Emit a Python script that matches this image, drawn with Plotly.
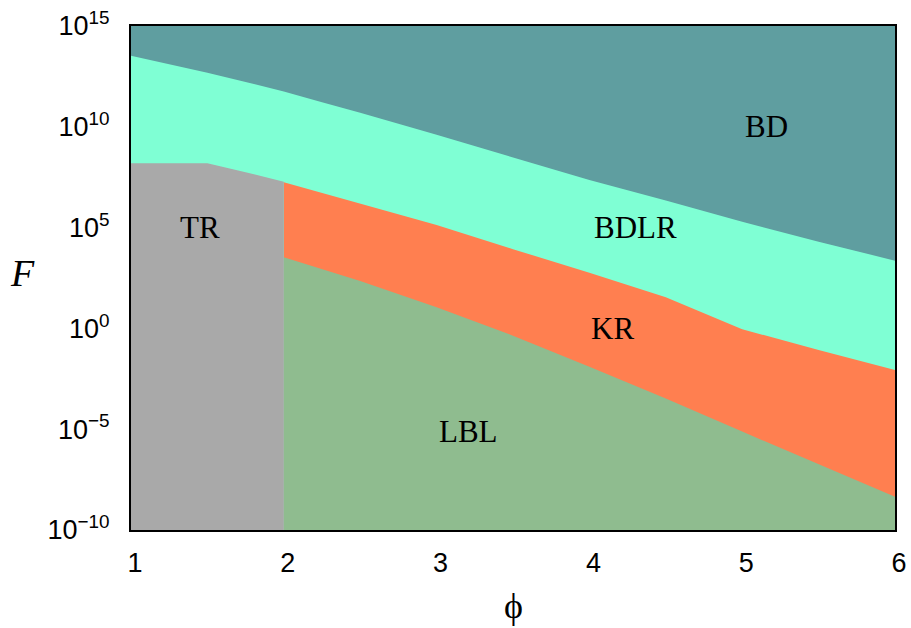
import plotly.graph_objects as go

# Regime boundaries in the (phi, F) plane; F values given as log10(F)
phi_bd = [1.0, 1.25, 1.5, 1.75, 2.0, 2.25, 2.5, 3.0, 3.5, 4.0, 4.5, 5.0, 5.5, 6.0]
logF_bd = [13.53, 13.11, 12.68, 12.22, 11.75, 11.22, 10.7, 9.6, 8.48, 7.36, 6.35, 5.29, 4.3, 3.36]

phi_tr = [1.0, 1.25, 1.5, 1.75, 2.0]
logF_tr = [8.19, 8.19, 8.19, 7.75, 7.28]

phi_kr = [2.0, 2.25, 2.5, 3.0, 3.5, 4.0, 4.5, 5.0, 5.5, 6.0]
logF_kr = [7.25, 6.72, 6.19, 5.13, 3.93, 2.76, 1.55, -0.04, -1.07, -2.06]

phi_lbl = [2.0, 2.5, 3.0, 3.5, 4.0, 4.5, 5.0, 5.5, 6.0]
logF_lbl = [3.53, 2.35, 1.05, -0.36, -1.9, -3.48, -5.12, -6.72, -8.35]

phi_min, phi_max = 1.0, 6.0
logF_min, logF_max = -10, 15

y_tickvals = [-10, -5, 0, 5, 10, 15]
x_tickvals = [1, 2, 3, 4, 5, 6]

regions = [
    # name, label phi, label log10F, colour
    ("BD", 5.16, 10.0, "#5F9EA0"),
    ("BDLR", 4.30, 5.0, "#7FFFD4"),
    ("TR", 1.45, 5.0, "#A9A9A9"),
    ("KR", 4.15, 0.0, "#FF7F50"),
    ("LBL", 3.21, -5.1, "#8FBC8F"),
]
colours = {name: c for name, _, _, c in regions}

W, H = 911, 628
ML, MR, MT, MB = 131, 16, 26, 98
PW, PH = W - ML - MR, H - MT - MB


def pw(v):
    return [10.0 ** e for e in v]


def down_to_floor(xs, ys):
    """Polygon from a boundary curve down to the bottom of the axis."""
    px = list(xs) + [xs[-1], xs[0], xs[0]]
    py = pw(ys) + [10.0 ** logF_min, 10.0 ** logF_min, 10.0 ** ys[0]]
    return px, py


fig = go.Figure()

# BD fills everything above its boundary (drawn as the full frame, later layers cover below)
fig.add_trace(go.Scatter(
    x=[phi_min, phi_max, phi_max, phi_min, phi_min],
    y=pw([logF_max, logF_max, logF_min, logF_min, logF_max]),
    fill="toself", fillcolor=colours["BD"], mode="lines",
    line=dict(width=0), hoverinfo="skip", showlegend=False, name="BD"))

layers = [
    ("BDLR", phi_bd, logF_bd),
    ("KR", phi_kr, logF_kr),
    ("LBL", phi_lbl, logF_lbl),
    ("TR", phi_tr, logF_tr),
]
for name, xs, ys in layers:
    px, py = down_to_floor(xs, ys)
    fig.add_trace(go.Scatter(
        x=px, y=py, fill="toself", fillcolor=colours[name], mode="lines",
        line=dict(width=0), hoverinfo="skip", showlegend=False, name=name))

for name, lx, ly, _ in regions:
    fig.add_annotation(
        x=lx, y=ly, xref="x", yref="y", text=name, showarrow=False,
        font=dict(family="Liberation Serif, Times New Roman, serif", size=31, color="black"),
        xanchor="center", yanchor="middle")


def paper_xy(px_x, px_y):
    return (px_x - ML) / PW, (H - MB - px_y) / PH


# axis titles, placed by pixel position
fx, fy = paper_xy(22, 273)
fig.add_annotation(
    x=fx, y=fy, xref="paper", yref="paper", text="<i>F</i>", showarrow=False,
    xanchor="center", yanchor="middle",
    font=dict(family="Liberation Serif, Times New Roman, serif", size=38, color="black"))
px_, py_ = paper_xy(513, 606)
fig.add_annotation(
    x=px_, y=py_, xref="paper", yref="paper", text="ϕ", showarrow=False,
    xanchor="center", yanchor="middle",
    font=dict(family="Liberation Serif, DejaVu Serif, serif", size=36, color="black"))


def sup_label(e):
    s = str(e).replace("-", "\u2212")
    return f"10<sup>{s}</sup>"


tick_font = dict(family="Liberation Sans, Arial, sans-serif", size=27, color="black")

fig.update_layout(
    width=W, height=H,
    margin=dict(l=ML, r=MR, t=MT, b=MB, autoexpand=False),
    paper_bgcolor="white", plot_bgcolor="white",
    font=dict(family="Liberation Sans, Arial, sans-serif", size=27, color="black"),
    xaxis=dict(
        range=[phi_min, phi_max], tickvals=x_tickvals,
        ticktext=[str(v) for v in x_tickvals], tickfont=tick_font,
        showgrid=False, zeroline=False, ticks="", automargin=False,
        showline=True, mirror=True, linecolor="black", linewidth=2,
        ticklabelstandoff=8, ticklabelshift=4),
    yaxis=dict(
        type="log", range=[logF_min, logF_max],
        tickvals=[10.0 ** e for e in y_tickvals],
        ticktext=[sup_label(e) for e in y_tickvals], tickfont=tick_font,
        showgrid=False, zeroline=False, ticks="", automargin=False,
        showline=True, mirror=True, linecolor="black", linewidth=2,
        ticklabelstandoff=14),
)

fig.write_html("out.html")
